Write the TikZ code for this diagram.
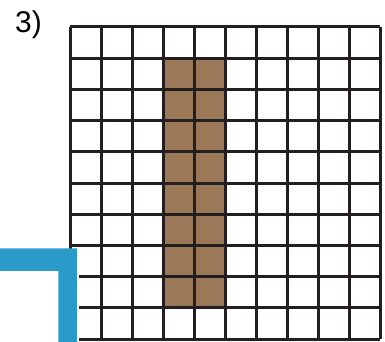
\documentclass[tikz,border=0pt]{standalone}
\usepackage{fontspec}
\setmainfont{Liberation Sans}
\definecolor{gridc}{HTML}{231F20}
\definecolor{brownc}{HTML}{9B7858}
\definecolor{bluec}{HTML}{2A9BC8}
\tikzset{gridline/.style={draw=gridc,line width=3pt},
  cellfill/.style={fill=brownc},
  bluebar/.style={fill=bluec}}
\begin{document}
\begin{tikzpicture}[x=1pt,y=-1pt]
\useasboundingbox (0,0) rectangle (385,342);
\fill[white] (0,0) rectangle (385,342);
% brown cells
\fill[cellfill] (163,58.2) rectangle (225,307.6);
% grid
\foreach \i in {0,...,10} {
  \draw[gridline] (70,{27+31.2*\i}) -- (380,{27+31.2*\i});
  \draw[gridline] ({70+31*\i},27) -- ({70+31*\i},339);
}
% blue L with white gap
\fill[white] (77,248) rectangle (79.2,342);
\fill[bluebar] (0,248.3) -- (76.8,248.3) -- (76.8,342) -- (58.3,342) -- (58.3,270.8) -- (0,270.8) -- cycle;
% label
\node[anchor=base west,inner sep=0pt,font=\fontsize{30}{36}\selectfont] (lbl) at (15,33) {3)};
\end{tikzpicture}
\end{document}
